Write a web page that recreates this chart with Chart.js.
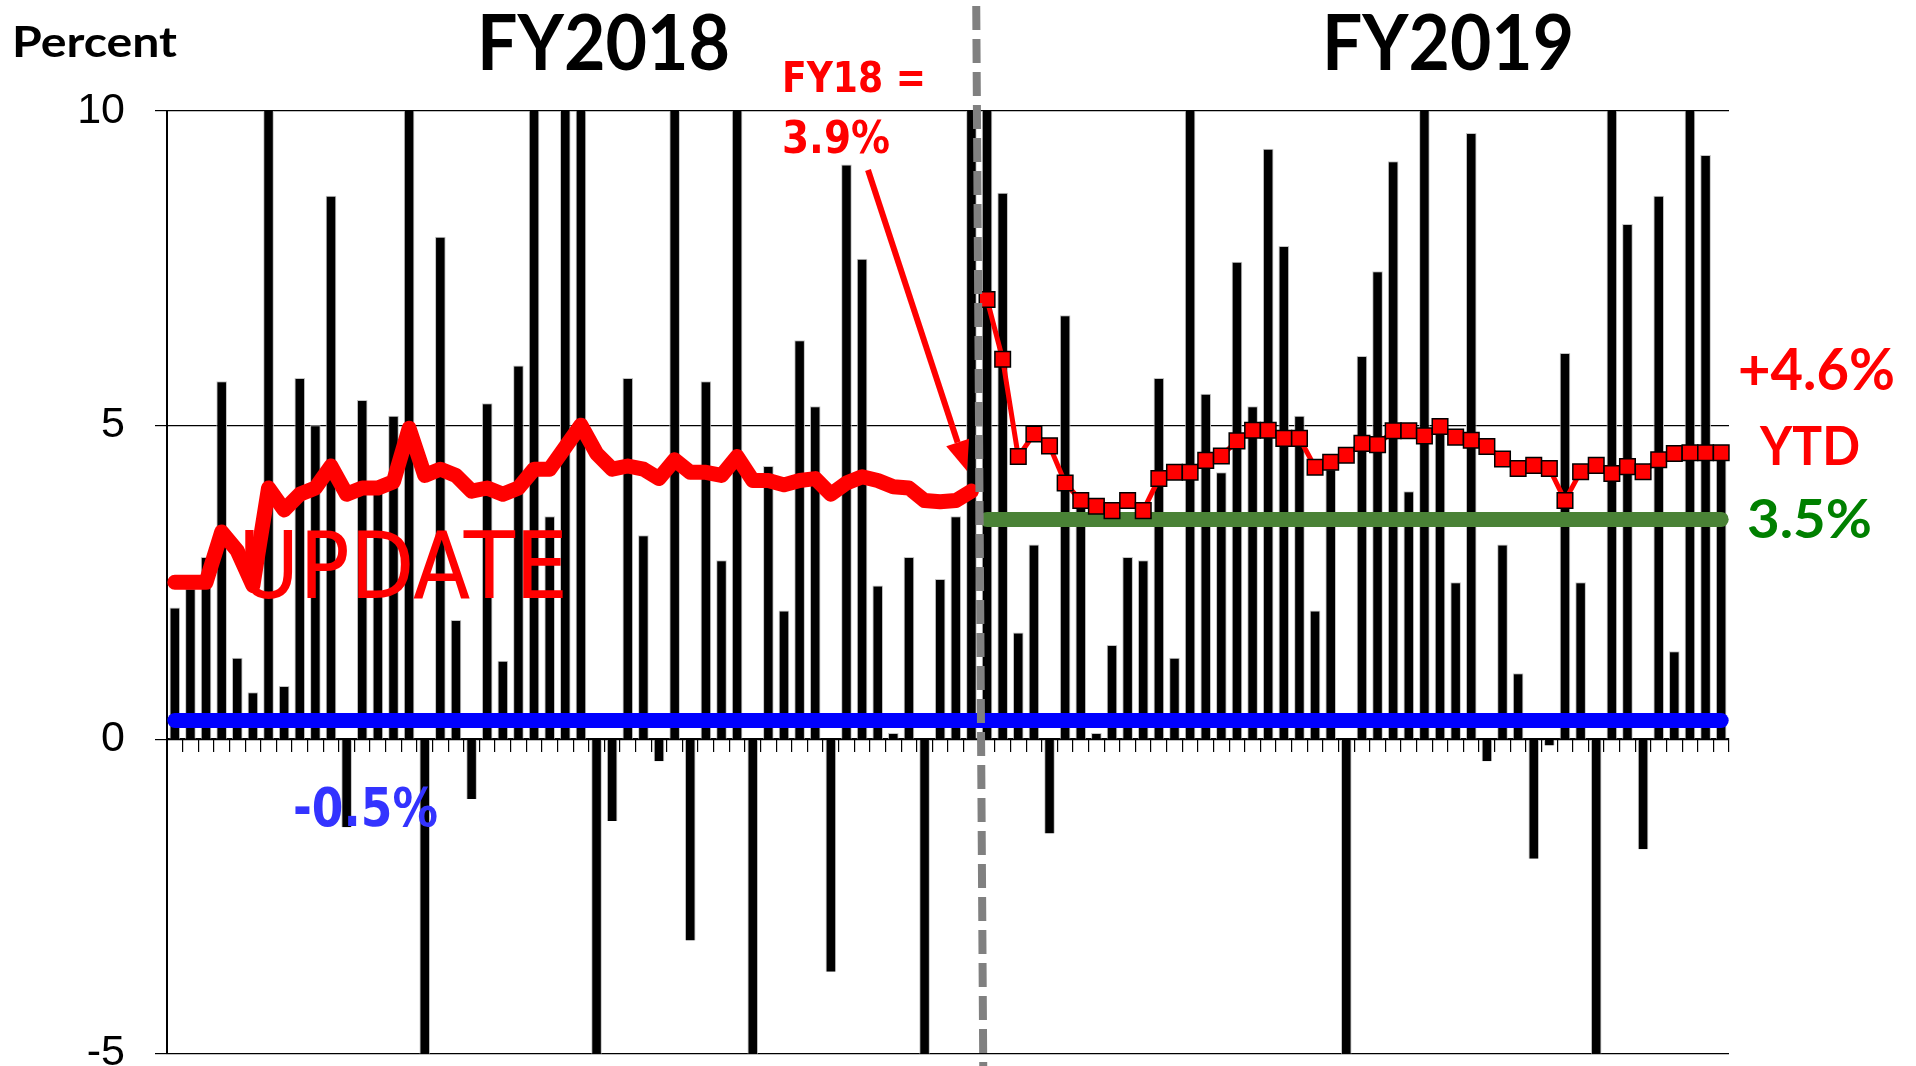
<!DOCTYPE html>
<html>
<head>
<meta charset="utf-8">
<script src="https://cdn.jsdelivr.net/npm/chart.js@4.4.1/dist/chart.umd.min.js"></script>
<style>
  html, body { margin: 0; padding: 0; background: #fff; }
  #wrap { width: 1916px; height: 1066px; }
</style>
</head>
<body>
<div id="wrap"><canvas id="chart" width="1916" height="1066"></canvas></div>
<script>
// weeks: 52 in FY2018, 48 so far in FY2019
const WEEKS = [];
for (let w = 1; w <= 52; w++) WEEKS.push('FY18 W' + w);
for (let w = 1; w <= 48; w++) WEEKS.push('FY19 W' + w);

// weekly percent change (black bars)
const weeklyFY18 = [
  2.1, 2.4, 2.9, 5.7, 1.3, 0.75, 10.5, 0.85, 5.75, 5.0,
  8.65, -1.4, 5.4, 4.0, 5.15, 10.5, -5.5, 8.0, 1.9, -0.95,
  5.35, 1.25, 5.95, 10.5, 3.55, 10.5, 10.5, -5.5, -1.3, 5.75,
  3.25, -0.35, 10.5, -3.2, 5.7, 2.85, 10.5, -5.5, 4.35, 2.05,
  6.35, 5.3, -3.7, 9.15, 7.65, 2.45, 0.1, 2.9, -5.5, 2.55,
  3.55, 10.5
];
const weeklyFY19 = [
  10.5, 8.7, 1.7, 3.1, -1.5, 6.75, 3.7, 0.1, 1.5, 2.9,
  2.85, 5.75, 1.3, 10.5, 5.5, 4.25, 7.6, 5.3, 9.4, 7.85,
  5.15, 2.05, 4.3, -5.5, 6.1, 7.45, 9.2, 3.95, 10.5, 5.0,
  2.5, 9.65, -0.35, 3.1, 1.05, -1.9, -0.1, 6.15, 2.5, -5.5,
  10.5, 8.2, -1.75, 8.65, 1.4, 10.5, 9.3, 4.5
];

// year-to-date growth
const ytdFY18 = [
  2.5, 2.5, 2.5, 3.3, 3.0, 2.45, 4.0, 3.65, 3.9, 4.0,
  4.35, 3.9, 4.0, 4.0, 4.1, 4.95, 4.2, 4.3, 4.2, 3.95,
  4.0, 3.9, 4.0, 4.3, 4.3, 4.65, 5.0, 4.55, 4.3, 4.35,
  4.3, 4.15, 4.45, 4.25, 4.25, 4.2, 4.5, 4.12, 4.12, 4.05,
  4.12, 4.15, 3.9, 4.08, 4.18, 4.12, 4.02, 4.0, 3.8, 3.78,
  3.8, 3.95
];
const ytdFY19 = [
  7.0, 6.05, 4.5, 4.86, 4.67, 4.08, 3.8, 3.71, 3.64, 3.8,
  3.64, 4.15, 4.25, 4.25, 4.44, 4.51, 4.75, 4.92, 4.92, 4.79,
  4.79, 4.33, 4.41, 4.52, 4.71, 4.69, 4.91, 4.91, 4.83, 4.98,
  4.81, 4.76, 4.66, 4.46, 4.31, 4.36, 4.31, 3.8, 4.26, 4.36,
  4.23, 4.34, 4.26, 4.45, 4.55, 4.56, 4.56, 4.56
];

const blueLevel = 0.3;   // labelled -0.5%
const greenLevel = 3.5;  // FY2019 target 3.5%
const FY19_START = 52;

const weekly = weeklyFY18.concat(weeklyFY19);
const pts = (vals, start) => vals.map((v, i) => ({ x: WEEKS[start + i], y: v }));

function fitText(ctx, txt, x, y, font, color, width) {
  ctx.save();
  ctx.font = font;
  ctx.fillStyle = color;
  ctx.textAlign = 'left';
  ctx.textBaseline = 'alphabetic';
  const s = width ? width / ctx.measureText(txt).width : 1;
  ctx.translate(x, y);
  ctx.scale(s, 1);
  ctx.fillText(txt, 0, 0);
  ctx.restore();
}

const notes = {
  id: 'notes',
  afterDatasetsDraw(chart) {
    const { ctx } = chart;
    const xs = chart.scales.x;
    const xd = (xs.getPixelForValue(FY19_START - 1) + xs.getPixelForValue(FY19_START)) / 2;

    fitText(ctx, 'UPDATE', 238, 598, '92px "DejaVu Sans"', '#ff0000', 330);

    // fiscal year divider
    ctx.save();
    ctx.strokeStyle = '#808080';
    ctx.lineWidth = 8;
    ctx.setLineDash([24, 9]);
    ctx.beginPath();
    ctx.moveTo(xd - 3, 6);
    ctx.lineTo(xd + 4, chart.height);
    ctx.stroke();
    ctx.restore();

    // arrow to FY18 end
    const x0 = 868, y0 = 170, x1 = 967, y1 = 471;
    const a = Math.atan2(y1 - y0, x1 - x0), hl = 30, hw = 12;
    const bx = x1 - hl * Math.cos(a), by = y1 - hl * Math.sin(a);
    ctx.save();
    ctx.strokeStyle = '#ff0000'; ctx.fillStyle = '#ff0000'; ctx.lineWidth = 6;
    ctx.beginPath(); ctx.moveTo(x0, y0); ctx.lineTo(bx, by); ctx.stroke();
    ctx.beginPath();
    ctx.moveTo(x1, y1);
    ctx.lineTo(bx + hw * Math.sin(a), by - hw * Math.cos(a));
    ctx.lineTo(bx - hw * Math.sin(a), by + hw * Math.cos(a));
    ctx.closePath(); ctx.fill();
    ctx.restore();

    fitText(ctx, 'Percent', 12, 57, 'bold 42px Lato', '#000', 165);
    fitText(ctx, 'FY2018', 477, 70, 'bold 76px Lato', '#000', 253);
    fitText(ctx, 'FY2019', 1322, 70, 'bold 76px Lato', '#000', 252);
    fitText(ctx, 'FY18 =', 782, 92, 'bold 42px "DejaVu Sans"', '#ff0000', 144);
    fitText(ctx, '3.9%', 782, 153, 'bold 45px "DejaVu Sans"', '#ff0000', 108);
    fitText(ctx, '-0.5%', 293, 826, 'bold 54px "DejaVu Sans"', '#3333ff', 145);
    fitText(ctx, '+4.6%', 1738, 390, 'bold 57px Lato', '#ff0000', 157);
    fitText(ctx, 'YTD', 1760, 465, 'bold 53px Lato', '#ff0000', 100);
    fitText(ctx, '3.5%', 1747, 538, 'bold 53px Lato', '#008000', 125);
  }
};

new Chart(document.getElementById('chart'), {
  type: 'bar',
  data: {
    labels: WEEKS,
    datasets: [
      {
        type: 'line', data: pts(ytdFY19, FY19_START), order: 1,
        borderColor: '#ff0000', borderWidth: 5, tension: 0,
        pointStyle: 'rect', pointRadius: 11, pointBackgroundColor: '#ff0000',
        pointBorderColor: '#000', pointBorderWidth: 1.5
      },
      {
        type: 'line', data: pts(ytdFY18, 0), order: 2,
        borderColor: '#ff0000', borderWidth: 15, tension: 0, pointRadius: 0,
        borderJoinStyle: 'round', borderCapStyle: 'round'
      },
      {
        type: 'line', order: 3,
        data: [{ x: WEEKS[FY19_START], y: greenLevel }, { x: WEEKS[WEEKS.length - 1], y: greenLevel }],
        borderColor: '#4a8236', borderWidth: 15, pointRadius: 0, borderCapStyle: 'round'
      },
      {
        type: 'line', order: 4,
        data: [{ x: WEEKS[0], y: blueLevel }, { x: WEEKS[WEEKS.length - 1], y: blueLevel }],
        borderColor: '#0000ff', borderWidth: 15, pointRadius: 0, borderCapStyle: 'round'
      },
      {
        type: 'bar', data: weekly, order: 10,
        backgroundColor: '#000', borderColor: '#c4c4c4',
        borderWidth: { left: 1, right: 1, top: 1, bottom: 0 },
        barPercentage: 0.68, categoryPercentage: 1
      }
    ]
  },
  options: {
    responsive: false,
    animation: false,
    devicePixelRatio: 1,
    layout: { padding: { left: 0, right: 187, top: 111, bottom: 6 } },
    plugins: { legend: { display: false }, tooltip: { enabled: false } },
    scales: {
      x: {
        position: { y: 0 },
        offset: true,
        ticks: { display: false, autoSkip: false },
        grid: { drawOnChartArea: false, drawTicks: true, tickLength: 12, color: '#000', lineWidth: 1.2, offset: true },
        border: { display: true, color: '#000', width: 2 }
      },
      y: {
        min: -5, max: 10,
        ticks: { stepSize: 5, color: '#000', padding: 30, font: { family: '"Liberation Sans", Arial', size: 43 } },
        grid: { color: '#000', lineWidth: 1.2, tickLength: 12 },
        border: { display: true, color: '#000', width: 2 },
        afterFit(s) { s.width = 167; s.paddingTop = 0; s.paddingBottom = 0; }
      }
    }
  },
  plugins: [notes]
});
</script>
</body>
</html>
